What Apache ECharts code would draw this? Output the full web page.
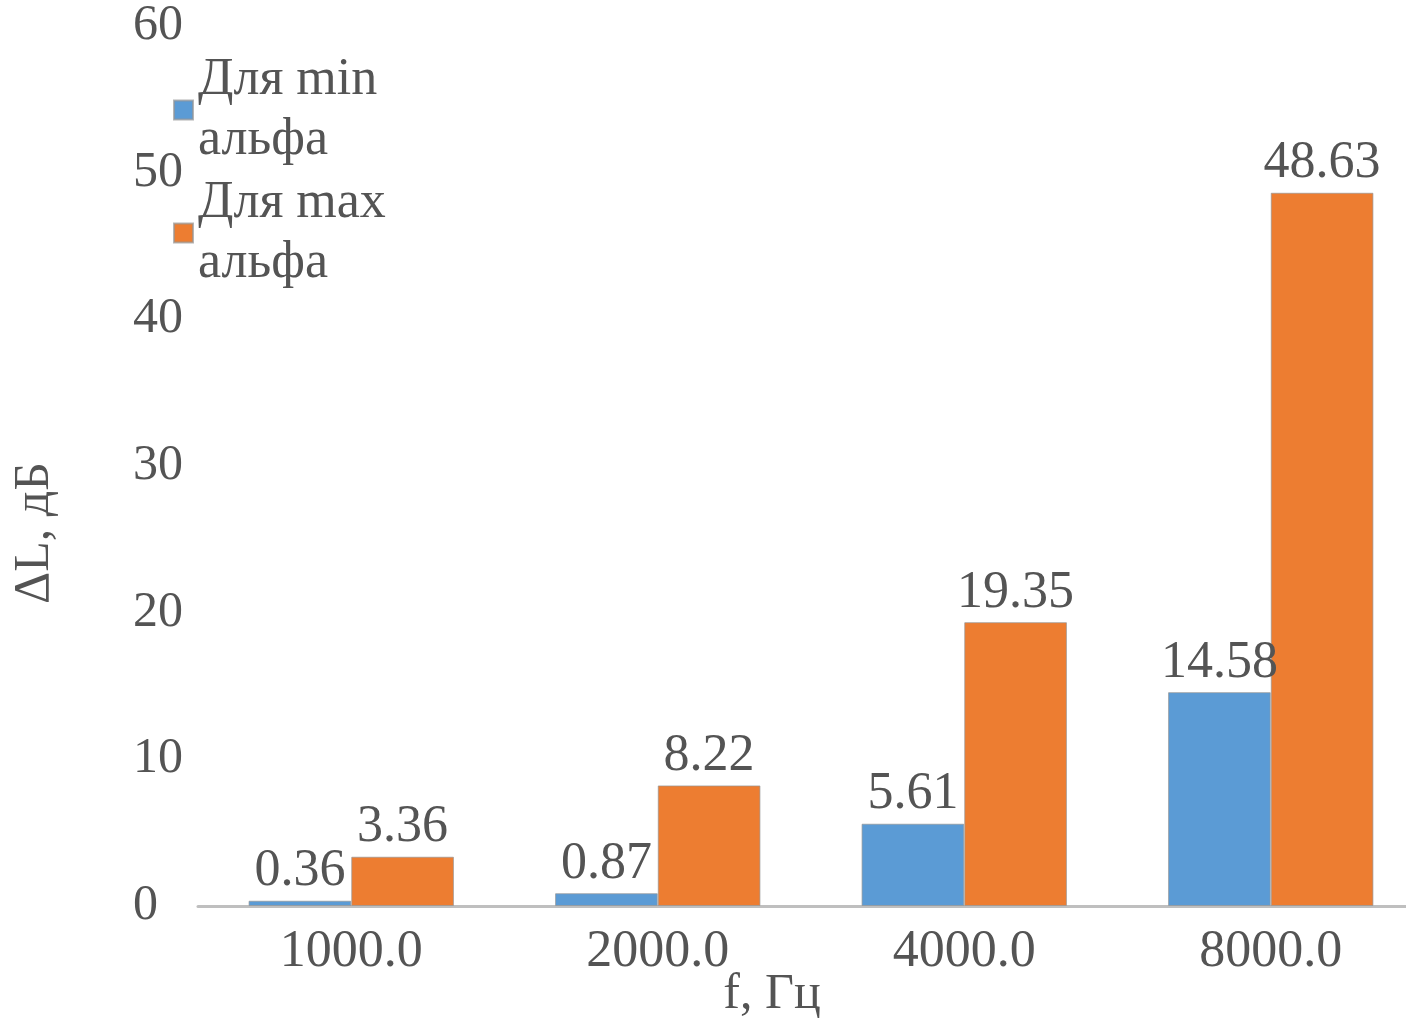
<!DOCTYPE html>
<html>
<head>
<meta charset="utf-8">
<style>
  html, body { margin: 0; padding: 0; background: #ffffff; }
  #chart { width: 1406px; height: 1020px; }
</style>
<script src="https://cdn.jsdelivr.net/npm/echarts@6/dist/echarts.min.js"></script>
</head>
<body>
<div id="chart"></div>
<script>
// Frequencies, Hz
const categories = ['1000.0', '2000.0', '4000.0', '8000.0'];
// Attenuation ΔL, dB
const minAlpha = [0.36, 0.87, 5.61, 14.58];
const maxAlpha = [3.36, 8.22, 19.35, 48.63];
const seriesNames = ['Для min\nальфа', 'Для max\nальфа'];
const yTicks = { min: 0, max: 60, interval: 10 };

const FONT = "'Liberation Serif', 'Times New Roman', serif";
const TEXT = '#545454';

const chart = echarts.init(document.getElementById('chart'), null, { renderer: 'canvas' });

function barSeries(name, data, color) {
  return {
    name: name,
    type: 'bar',
    data: data,
    barGap: '0%',
    barCategoryGap: '33%',
    itemStyle: { color: color, borderColor: 'rgba(150,150,150,0.7)', borderWidth: 1 },
    label: {
      show: true,
      position: 'top',
      distance: 3,
      color: TEXT,
      fontFamily: FONT,
      fontSize: 52,
      formatter: p => p.value.toFixed(2)
    }
  };
}

chart.setOption({
  animation: false,
  backgroundColor: '#ffffff',
  textStyle: { fontFamily: FONT, color: TEXT },
  grid: { left: 198, right: -18, top: 26, bottom: 114, containLabel: false, outerBoundsMode: 'none' },
  legend: {
    orient: 'vertical',
    left: 173,
    top: 50,
    padding: 0,
    itemGap: 3,
    itemWidth: 19,
    itemHeight: 19,
    icon: 'rect',
    textStyle: { fontFamily: FONT, fontSize: 52, color: TEXT, lineHeight: 60, padding: [0, 0, 0, 0] },
    data: seriesNames
  },
  xAxis: {
    type: 'category',
    data: categories,
    axisLine: { show: true, lineStyle: { color: '#bfbfbf', width: 3 } },
    axisTick: { show: false },
    axisLabel: { color: TEXT, fontFamily: FONT, fontSize: 52, margin: 20 }
  },
  yAxis: {
    type: 'value',
    min: yTicks.min,
    max: yTicks.max,
    interval: yTicks.interval,
    axisLine: { show: false },
    axisTick: { show: false },
    splitLine: { show: false },
    axisLabel: { color: TEXT, fontFamily: FONT, fontSize: 50, align: 'left', margin: 65 }
  },
  graphic: [
    {
      type: 'text',
      x: 35, y: 533,
      rotation: Math.PI / 2,
      style: { text: 'ΔL, дБ', fill: TEXT, font: '50px ' + FONT, align: 'center', verticalAlign: 'middle' }
    },
    {
      type: 'text',
      x: 772, y: 995,
      style: { text: 'f, Гц', fill: TEXT, font: '50px ' + FONT, align: 'center', verticalAlign: 'middle' }
    }
  ],
  series: [
    barSeries(seriesNames[0], minAlpha, '#5B9BD5'),
    barSeries(seriesNames[1], maxAlpha, '#ED7D31')
  ]
});
</script>
</body>
</html>
